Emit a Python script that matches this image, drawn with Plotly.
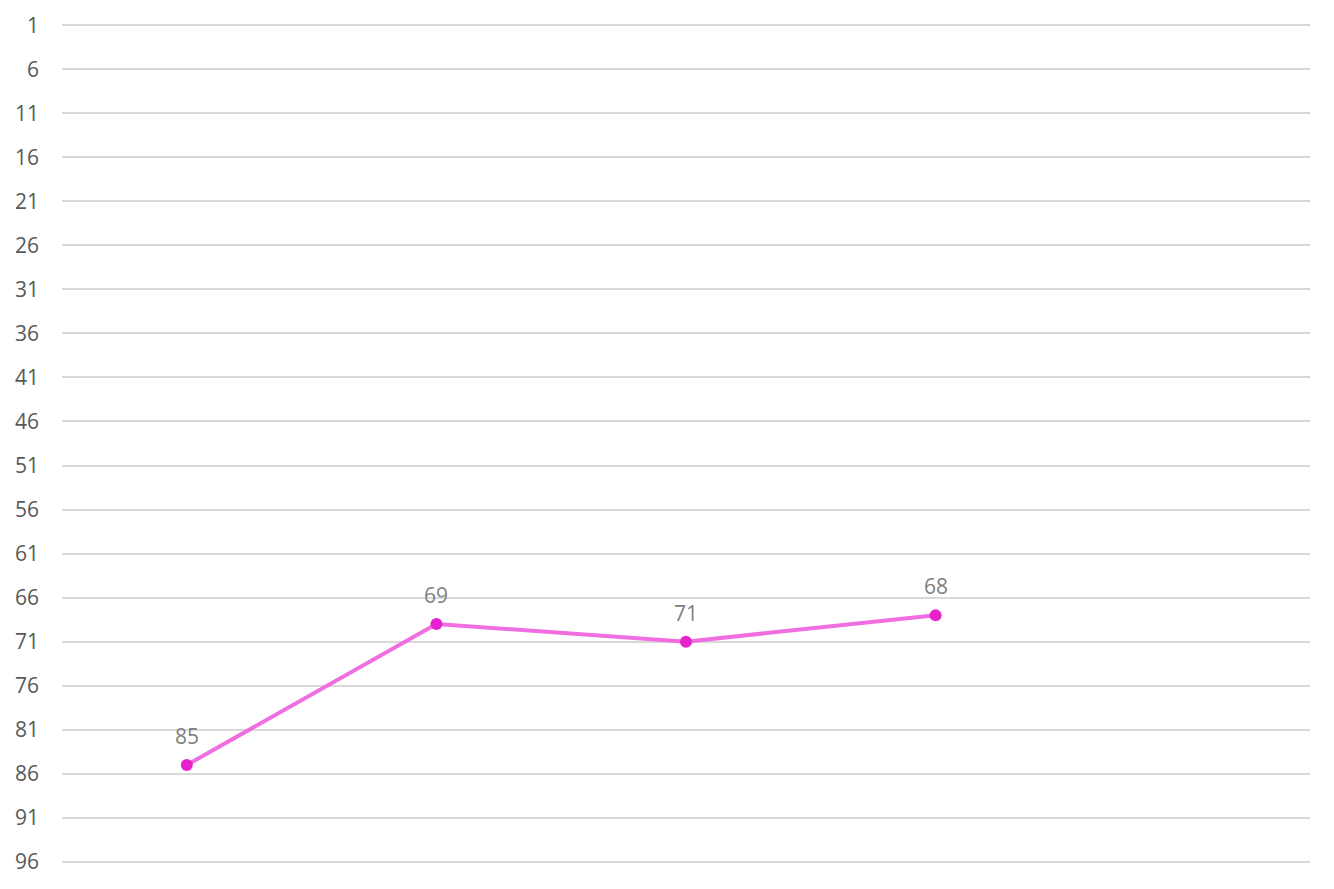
import plotly.graph_objects as go

categories = ["A", "B", "C", "D", "E"]
values = [85, 69, 71, 68, None]
labels = ["85", "69", "71", "68", ""]
y_ticks = list(range(1, 97, 5))

fig = go.Figure()

fig.add_trace(go.Scatter(
    x=categories,
    y=values,
    mode="lines+markers",
    line=dict(color="#F06EE0", width=4),
    marker=dict(size=12, color="#E622CF"),
    cliponaxis=False,
    hoverinfo="y",
))

# data labels above each point
for cat, val, lab in zip(categories, values, labels):
    if val is None:
        continue
    fig.add_annotation(
        x=cat, y=val, text=lab,
        showarrow=False,
        yshift=29,
        font=dict(size=21, color="#7F7F7F", family="Open Sans"),
    )

fig.update_xaxes(
    type="category",
    range=[-0.5, 4.5],
    showticklabels=False,
    showgrid=False,
    zeroline=False,
    showline=False,
    automargin=False,
)

fig.update_yaxes(
    range=[96.25, 0.75],
    tickvals=y_ticks,
    ticktext=[str(v) for v in y_ticks],
    showgrid=True,
    gridcolor="#D9D9D9",
    gridwidth=2,
    zeroline=False,
    showline=False,
    ticks="",
    ticklabelstandoff=22,
    tickfont=dict(size=21, color="#595959", family="Open Sans"),
    automargin=False,
)

fig.update_layout(
    width=1334,
    height=889,
    margin=dict(l=54, r=32, t=15, b=33),
    plot_bgcolor="white",
    paper_bgcolor="white",
    showlegend=False,
)

fig.write_html("out.html")
